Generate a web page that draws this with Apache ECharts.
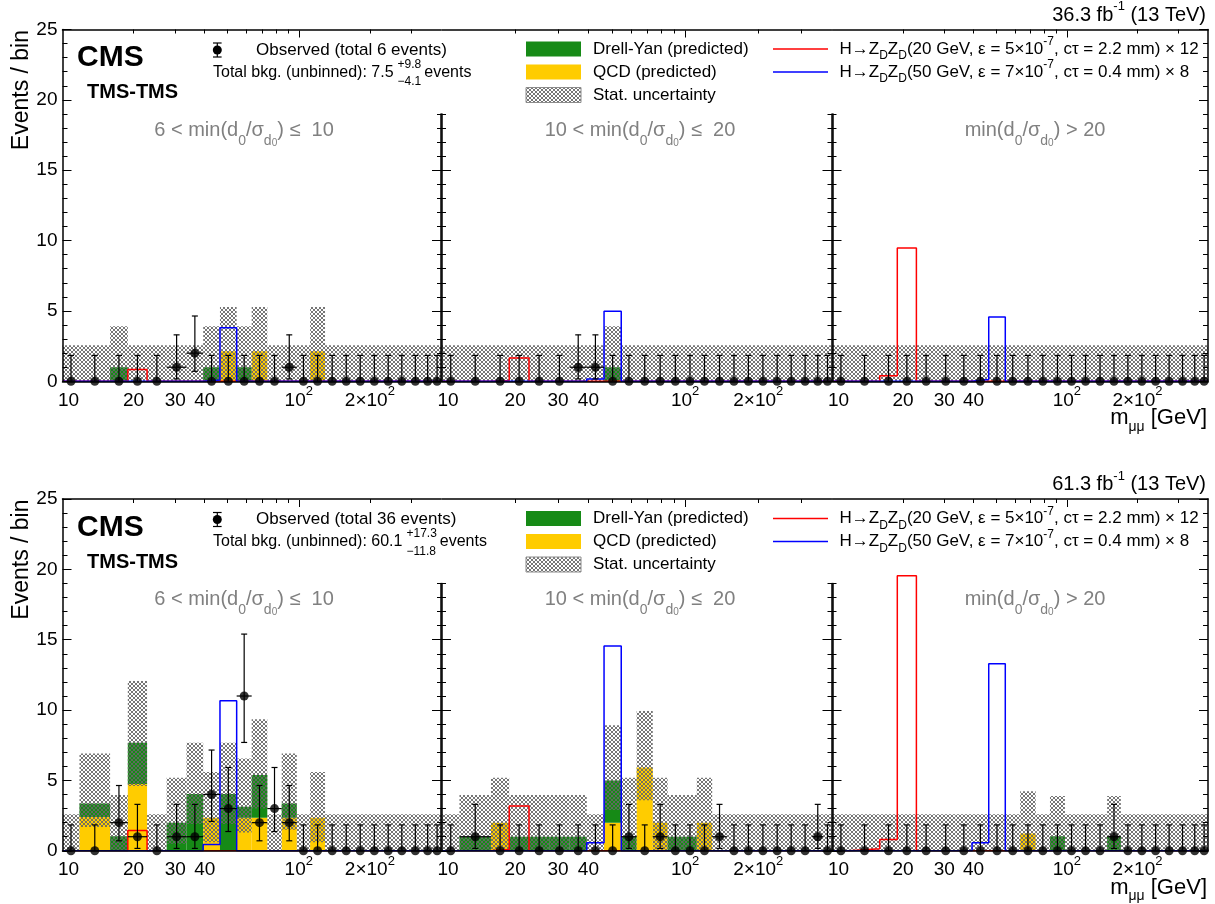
<!DOCTYPE html>
<html><head><meta charset="utf-8">
<script src="https://cdn.jsdelivr.net/npm/echarts@6/dist/echarts.min.js"></script>
<style>html,body{margin:0;padding:0;background:#fff}#c{width:1215px;height:904px}</style>
</head><body><div id="c"></div>
<script>
// ---------------- DATA ----------------
const binEdges = [10, 11.8, 15.9, 18.9, 22.8, 27.6, 33.5, 39.4, 46.4, 54.6, 63.2, 73.6, 84.7, 98.1, 111.7, 129.2, 148.5, 169.9, 195.1, 223.7, 255.6, 291.6, 332.7, 370.7, 400];
const xTickMass = [10, 20, 30, 40, 100, 200];
const xTickLabels = ['10', '20', '30', '40', '10^2', '2×10^2'];
const topMinorMass = [20, 30, 40, 50, 60, 70, 80, 90, 200, 300];
const topMajorMass = [100];
const dividerMajor = [0, 5, 10, 15];
const regionLabels = ['6 < min(d0/σd0) ≤  10', '10 < min(d0/σd0) ≤  20', 'min(d0/σd0) > 20'];
const lumiLabels = ['36.3', '61.3'];
const obsTotals = ['6', '36'];
const bkgTotals = ['7.5', '60.1'];
const bkgUp = ['+9.8', '+17.3'];
const bkgDown = ['−4.1', '−11.8'];
// Garwood 68% intervals for observed counts
const garwood = {0: [0, 1.84], 1: [0.17, 3.30], 2: [0.71, 4.64], 3: [1.37, 5.92], 4: [2.09, 7.16], 11: [7.7, 15.4]};

// 36.3 fb-1, 6 < min(d0/sigma) <= 10
const qcd16A   = [0,0,0,0,0,0,0,0,2.13,0,2.13,0,0,0,2.13,0,0,0,0,0,0,0,0,0];
const dy16A    = [0,0,1.0,0,0,0,0,1.0,0,1.0,0,0,0,0,0,0,0,0,0,0,0,0,0,0];
const statLo16A= [0,0,0,0,0,0,0,0,0,0,0,0,0,0,0,0,0,0,0,0,0,0,0,0];
const statHi16A= [2.56,2.56,3.91,2.56,2.56,2.56,2.56,3.91,5.28,3.91,5.28,2.56,2.56,2.56,5.28,2.56,2.56,2.56,2.56,2.56,2.56,2.56,2.56,2.56];
const sig20_16A= [0,0,0,0.83,0,0,0,0,0,0,0,0,0,0,0,0,0,0,0,0,0,0,0,0];
const sig50_16A= [0,0,0,0,0,0,0,0.1,3.8,0,0,0,0,0,0,0,0,0,0,0,0,0,0,0];
const obs16A   = [0,0,0,0,0,1,2,0,0,0,0,0,1,0,0,0,0,0,0,0,0,0,0,0];
// 36.3 fb-1, 10 < min <= 20
const qcd16B   = [0,0,0,0,0,0,0,0,0,0,0,0,0,0,0,0,0,0,0,0,0,0,0,0];
const dy16B    = [0,0,0,0,0,0,0,0,1.0,0,0,0,0,0,0,0,0,0,0,0,0,0,0,0];
const statLo16B= [0,0,0,0,0,0,0,0,0,0,0,0,0,0,0,0,0,0,0,0,0,0,0,0];
const statHi16B= [2.56,2.56,2.56,2.56,2.56,2.56,2.56,2.56,3.91,2.56,2.56,2.56,2.56,2.56,2.56,2.56,2.56,2.56,2.56,2.56,2.56,2.56,2.56,2.56];
const sig20_16B= [0,0,0.05,1.66,0,0,0,0,0,0,0,0,0,0,0,0,0,0,0,0,0,0,0,0];
const sig50_16B= [0,0,0,0,0,0,0,0.17,4.98,0,0,0,0,0,0,0,0,0,0,0,0,0,0,0];
const obs16B   = [0,0,0,0,0,0,1,1,0,0,0,0,0,0,0,0,0,0,0,0,0,0,0,0];
// 36.3 fb-1, min > 20
const qcd16C   = [0,0,0,0,0,0,0,0,0,0,0,0,0,0,0,0,0,0,0,0,0,0,0,0];
const dy16C    = [0,0,0,0,0,0,0,0,0,0,0,0,0,0,0,0,0,0,0,0,0,0,0,0];
const statLo16C= [0,0,0,0,0,0,0,0,0,0,0,0,0,0,0,0,0,0,0,0,0,0,0,0];
const statHi16C= [2.56,2.56,2.56,2.56,2.56,2.56,2.56,2.56,2.56,2.56,2.56,2.56,2.56,2.56,2.56,2.56,2.56,2.56,2.56,2.56,2.56,2.56,2.56,2.56];
const sig20_16C= [0,0,0.4,9.48,0,0,0,0,0,0,0,0,0,0,0,0,0,0,0,0,0,0,0,0];
const sig50_16C= [0,0,0,0,0,0,0,0.12,4.57,0,0,0,0,0,0,0,0,0,0,0,0,0,0,0];
const obs16C   = [0,0,0,0,0,0,0,0,0,0,0,0,0,0,0,0,0,0,0,0,0,0,0,0];
// 61.3 fb-1, 6 < min <= 10
const qcd18A   = [0,2.4,0,4.75,0,0,0,2.35,0,2.35,2.35,0,2.35,0,2.35,0,0,0,0,0,0,0,0,0];
const dy18A    = [0,0.96,1.04,2.93,0,2.0,4.03,0,4.03,0.78,3.03,0,1.01,0,0,0,0,0,0,0,0,0,0,0];
const statLo18A= [0,1.7,0,4.6,0,0.5,1.9,0.6,1.9,1.3,3.0,0,1.5,0,0.6,0,0,0,0,0,0,0,0,0];
const statHi18A= [2.6,6.92,3.96,12.06,2.6,5.2,7.68,5.6,7.68,6.56,9.34,2.6,6.92,2.6,5.6,2.6,2.6,2.6,2.6,2.6,2.6,2.6,2.6,2.6];
const sig20_18A= [0,0,0,1.45,0,0,0,0,0,0,0,0,0,0,0,0,0,0,0,0,0,0,0,0];
const sig50_18A= [0,0,0,0,0,0,0,0.45,10.66,0,0,0,0,0,0,0,0,0,0,0,0,0,0,0];
const obs18A   = [0,0,2,1,0,1,1,4,3,11,2,3,2,0,0,0,0,0,0,0,0,0,0,0];
// 61.3 fb-1, 10 < min <= 20
const qcd18B   = [0,0,2.0,0,0,0,0,0,2.0,0,5.92,2.0,0,0,2.0,0,0,0,0,0,0,0,0,0];
const dy18B    = [0,1.0,0,1.0,1.0,1.0,1.0,0,3.0,1.0,0,0,1.0,1.0,0,0,0,0,0,0,0,0,0,0];
const statLo18B= [0,0,0,0,0,0,0,0,2.9,0,3.6,0,0,0,0,0,0,0,0,0,0,0,0,0];
const statHi18B= [2.6,3.96,5.19,3.96,3.96,3.96,3.96,2.6,8.93,5.2,9.93,5.19,3.96,3.96,5.19,2.6,2.6,2.6,2.6,2.6,2.6,2.6,2.6,2.6];
const sig20_18B= [0,0,0.1,3.18,0,0,0,0,0,0,0,0,0,0,0,0,0,0,0,0,0,0,0,0];
const sig50_18B= [0,0,0,0,0,0,0,0.57,14.55,0,0,0,0,0,0,0,0,0,0,0,0,0,0,0];
const obs18B   = [0,1,0,0,0,0,0,0,0,1,0,1,0,0,0,1,0,0,0,0,0,0,1,0];
// 61.3 fb-1, min > 20
const qcd18C   = [0,0,0,0,0,0,0,0,0,0,1.23,0,0,0,0,0,0,0,0,0,0,0,0,0];
const dy18C    = [0,0,0,0,0,0,0,0,0,0,0,0,1.04,0,0,0,1.04,0,0,0,0,0,0,0];
const statLo18C= [0,0,0,0,0,0,0,0,0,0,0,0,0,0,0,0,0,0,0,0,0,0,0,0];
const statHi18C= [2.6,2.6,2.6,2.6,2.6,2.6,2.6,2.6,2.6,2.6,4.24,2.6,3.9,2.6,2.6,2.6,3.9,2.6,2.6,2.6,2.6,2.6,2.6,2.6];
const sig20_18C= [0,0.14,0.8,19.55,0,0,0,0,0,0,0,0,0,0,0,0,0,0,0,0,0,0,0,0];
const sig50_18C= [0,0,0,0,0,0,0,0.57,13.3,0,0,0,0,0,0,0,0,0,0,0,0,0,0,0];
const obs18C   = [0,0,0,0,0,0,0,0,0,0,0,0,0,0,0,0,1,0,0,0,0,0,0,0];

const panels = [
  [
    {qcd: qcd16A, dy: dy16A, lo: statLo16A, hi: statHi16A, s20: sig20_16A, s50: sig50_16A, obs: obs16A},
    {qcd: qcd16B, dy: dy16B, lo: statLo16B, hi: statHi16B, s20: sig20_16B, s50: sig50_16B, obs: obs16B},
    {qcd: qcd16C, dy: dy16C, lo: statLo16C, hi: statHi16C, s20: sig20_16C, s50: sig50_16C, obs: obs16C}
  ],
  [
    {qcd: qcd18A, dy: dy18A, lo: statLo18A, hi: statHi18A, s20: sig20_18A, s50: sig50_18A, obs: obs18A},
    {qcd: qcd18B, dy: dy18B, lo: statLo18B, hi: statHi18B, s20: sig20_18B, s50: sig50_18B, obs: obs18B},
    {qcd: qcd18C, dy: dy18C, lo: statLo18C, hi: statHi18C, s20: sig20_18C, s50: sig50_18C, obs: obs18C}
  ]
];

// ---------------- STYLE / LAYOUT ----------------
const FF = '"Liberation Sans", Arial, Helvetica, sans-serif';
const DY_COLOR = '#168a16';
const QCD_COLOR = '#ffcc00';
const GRAY_TXT = '#808080';
const subX = [[62.5, 441], [442, 831.5], [832.5, 1208]];
const panelY = [[29.5, 381.3], [499, 850.8]];
const yMax = 25, divMax = 19;
const LOG = Math.log10;
const E = binEdges.map(LOG);
const xMin = E[0], xMax = E[E.length - 1];

function makeHatch() {
  const c = document.createElement('canvas');
  c.width = 4; c.height = 4;
  const ctx = c.getContext('2d');
  ctx.strokeStyle = '#666666'; ctx.lineWidth = 0.9;
  ctx.beginPath(); ctx.moveTo(0, 0); ctx.lineTo(4, 4); ctx.moveTo(4, 0); ctx.lineTo(0, 4); ctx.stroke();
  return c;
}
const HATCH = {image: makeHatch(), repeat: 'repeat'};

const mctx = document.createElement('canvas').getContext('2d');
function tw(str, font) { mctx.font = font; return mctx.measureText(str).width; }

const richX = {
  b: {fontSize: 19, fontFamily: FF, color: '#000', lineHeight: 30, verticalAlign: 'middle'},
  f: {fontSize: 19, fontFamily: FF, color: '#000', lineHeight: 30, verticalAlign: 'middle', padding: [0, 0, 0, 12]},
  sup: {fontSize: 13, fontFamily: FF, color: '#000', lineHeight: 14, verticalAlign: 'top'}
};
function fmtX(v) {
  const m = Math.round(Math.pow(10, v));
  const i = xTickMass.indexOf(m);
  if (i < 0) return '';
  const lab = xTickLabels[i];
  if (lab.indexOf('^') >= 0) {
    const parts = lab.split('^');
    return '{b|' + parts[0] + '}{sup|' + parts[1] + '}';
  }
  return i === 0 ? '{f|' + lab + '}' : '{b|' + lab + '}';
}

const grid = [], xAxis = [], yAxis = [], series = [];
const addGrid = g => { grid.push(g); return grid.length - 1; };
const addX = a => { xAxis.push(a); return xAxis.length - 1; };
const addY = a => { yAxis.push(a); return yAxis.length - 1; };
const axLine = {show: true, onZero: false, lineStyle: {color: '#000', width: 1.5}};
const tickLine = {color: '#000', width: 1};

function renderBkg(params, api) {
  const a = api.coord([api.value(0), api.value(3)]);
  const b = api.coord([api.value(1), api.value(2)]);
  return {type: 'rect', shape: {x: a[0], y: a[1], width: b[0] - a[0], height: b[1] - a[1]},
          style: {fill: api.value(4) === 1 ? DY_COLOR : QCD_COLOR}};
}
function renderStat(params, api) {
  const a = api.coord([api.value(0), api.value(3)]);
  const b = api.coord([api.value(1), api.value(2)]);
  return {type: 'rect', shape: {x: a[0], y: a[1], width: b[0] - a[0], height: b[1] - a[1]},
          style: {fill: HATCH}};
}
function renderErr(params, api) {
  const xc = api.value(0), xl = api.value(1), xh = api.value(2), n = api.value(3), lo = api.value(4), hi = api.value(5);
  const pc = api.coord([xc, n]), pl = api.coord([xc, lo]), ph = api.coord([xc, hi]);
  const st = {stroke: '#000', lineWidth: 1.2};
  const ch = [
    {type: 'line', shape: {x1: pc[0], y1: pl[1], x2: pc[0], y2: ph[1]}, style: st},
    {type: 'line', shape: {x1: pc[0] - 3, y1: ph[1], x2: pc[0] + 3, y2: ph[1]}, style: st}
  ];
  if (n > 0) {
    const a = api.coord([xl, n]), b = api.coord([xh, n]);
    ch.push({type: 'line', shape: {x1: pc[0] - 3, y1: pl[1], x2: pc[0] + 3, y2: pl[1]}, style: st});
    ch.push({type: 'line', shape: {x1: a[0], y1: pc[1], x2: b[0], y2: pc[1]}, style: st});
  }
  return {type: 'group', children: ch};
}
function stepData(arr) {
  const pts = arr.map((v, i) => [E[i], v]);
  pts.push([E[E.length - 1], arr[arr.length - 1]]);
  return pts;
}

for (let p = 0; p < 2; p++) {
  const yTop = panelY[p][0], y0 = panelY[p][1];
  const pxPerUnit = (y0 - yTop) / yMax;
  for (let s = 0; s < 3; s++) {
    const xl = subX[s][0], xr = subX[s][1];
    const gi = addGrid({left: xl, top: yTop, width: xr - xl, height: y0 - yTop});
    const xb = addX({gridIndex: gi, type: 'value', position: 'bottom', min: xMin, max: xMax, z: 10,
      axisLine: axLine, axisTick: {show: false}, splitLine: {show: false},
      axisLabel: {show: true, customValues: xTickMass.map(LOG), margin: 4, formatter: fmtX, rich: richX}});
    addX({gridIndex: gi, type: 'value', position: 'top', min: xMin, max: xMax, z: 10,
      axisLine: axLine, axisTick: {show: true, inside: true, length: 4, customValues: topMinorMass.map(LOG), lineStyle: tickLine},
      axisLabel: {show: false}, splitLine: {show: false}});
    let yi;
    if (s === 1) {
      yi = addY({gridIndex: gi, type: 'value', min: 0, max: yMax, show: false});
    } else {
      yi = addY({gridIndex: gi, type: 'value', min: 0, max: yMax, interval: 5, position: s === 0 ? 'left' : 'right', z: 10,
        axisLine: axLine,
        axisTick: {show: true, inside: true, length: 9, lineStyle: tickLine},
        minorTick: {show: true, splitNumber: 5, length: 5, lineStyle: tickLine},
        axisLabel: {show: s === 0, margin: 5, fontSize: 19, fontFamily: FF, color: '#000'},
        splitLine: {show: false}, minorSplitLine: {show: false}});
    }
    // overlay grid for longer major ticks on top axis
    const go = addGrid({left: xl, top: yTop, width: xr - xl, height: 1});
    addX({gridIndex: go, type: 'value', position: 'top', min: xMin, max: xMax, z: 10,
      axisLine: {show: false}, axisTick: {show: true, inside: true, length: 7, customValues: topMajorMass.map(LOG), lineStyle: tickLine},
      axisLabel: {show: false}, splitLine: {show: false}});
    addY({gridIndex: go, type: 'value', min: 0, max: 1, show: false});

    // series
    const d = panels[p][s];
    const bkg = [], stat = [], err = [], dots = [];
    for (let i = 0; i < d.obs.length; i++) {
      const x0 = E[i], x1 = E[i + 1], xc = (x0 + x1) / 2;
      if (d.qcd[i] > 0) bkg.push([x0, x1, 0, d.qcd[i], 0]);
      if (d.dy[i] > 0) bkg.push([x0, x1, d.qcd[i], d.qcd[i] + d.dy[i], 1]);
      stat.push([x0, x1, d.lo[i], d.hi[i]]);
      const n = d.obs[i], g = garwood[n];
      err.push([xc, x0, x1, n, g[0], g[1]]);
      dots.push([xc, n]);
    }
    const common = {xAxisIndex: xb, yAxisIndex: yi};
    series.push(Object.assign({type: 'custom', renderItem: renderBkg, data: bkg, encode: {x: [0, 1], y: [2, 3]}, z: 2, clip: true}, common));
    series.push(Object.assign({type: 'custom', renderItem: renderStat, data: stat, encode: {x: [0, 1], y: [2, 3]}, z: 3, clip: true}, common));
    series.push(Object.assign({type: 'line', step: 'end', symbol: 'none', data: stepData(d.s20), lineStyle: {color: '#ff0000', width: 1.5}, z: 4, clip: true}, common));
    series.push(Object.assign({type: 'line', step: 'end', symbol: 'none', data: stepData(d.s50), lineStyle: {color: '#0000ff', width: 1.5}, z: 4, clip: true}, common));
    series.push(Object.assign({type: 'custom', renderItem: renderErr, data: err, encode: {x: 0, y: 3}, z: 19, clip: false}, common));
    series.push(Object.assign({type: 'scatter', data: dots, symbol: 'circle', symbolSize: 9, itemStyle: {color: '#000'}, z: 20, clip: false}, common));
  }
  // dividers
  for (let dv = 0; dv < 2; dv++) {
    const xd = (subX[dv][1] + subX[dv + 1][0]) / 2;
    const dTop = y0 - divMax * pxPerUnit;
    for (let k = 0; k < 2; k++) {
      const gd = addGrid({left: xd - 0.5, top: dTop, width: 1, height: y0 - dTop});
      addX({gridIndex: gd, type: 'value', min: 0, max: 1, show: false});
      ['left', 'right'].forEach(pos => {
        if (k === 0) {
          addY({gridIndex: gd, type: 'value', min: 0, max: divMax, position: pos, z: 10,
            axisLine: axLine, axisTick: {show: true, inside: true, length: 10, customValues: dividerMajor, lineStyle: tickLine},
            axisLabel: {show: false}, splitLine: {show: false}});
        } else {
          addY({gridIndex: gd, type: 'value', min: 0, max: divMax, interval: 1, position: pos, z: 10,
            axisLine: {show: false}, axisTick: {show: true, inside: true, length: 5, lineStyle: tickLine},
            axisLabel: {show: false}, splitLine: {show: false}});
        }
      });
    }
  }
}

// ---------------- TEXT / LEGEND (graphic) ----------------
const rich17 = {
  t: {fontSize: 17, fontFamily: FF, lineHeight: 26, verticalAlign: 'middle', fill: '#000'},
  sub: {fontSize: 12, fontFamily: FF, lineHeight: 12, verticalAlign: 'bottom', fill: '#000'},
  sup: {fontSize: 12, fontFamily: FF, lineHeight: 12, verticalAlign: 'top', fill: '#000'}
};
const richReg = {
  t: {fontSize: 20, fontFamily: FF, lineHeight: 36, verticalAlign: 'middle', fill: GRAY_TXT},
  s0: {fontSize: 14, fontFamily: FF, lineHeight: 16, verticalAlign: 'bottom', fill: GRAY_TXT},
  sd: {fontSize: 14, fontFamily: FF, lineHeight: 26, verticalAlign: 'bottom', fill: GRAY_TXT},
  ss: {fontSize: 10, fontFamily: FF, lineHeight: 6, verticalAlign: 'bottom', fill: GRAY_TXT}
};
function regRich(label) {
  const key = 'min(d0/σd0)';
  const i = label.indexOf(key);
  const pre = label.slice(0, i), post = label.slice(i + key.length);
  return (pre ? '{t|' + pre + '}' : '') + '{t|min(d}{s0|0}{t|/σ}{sd|d}{ss|0}{t|)' + post + '}';
}
const richLumi = {
  t: {fontSize: 20, fontFamily: FF, lineHeight: 30, verticalAlign: 'middle', fill: '#000'},
  sup: {fontSize: 13, fontFamily: FF, lineHeight: 14, verticalAlign: 'top', fill: '#000'}
};
const richM = {
  t: {fontSize: 22, fontFamily: FF, lineHeight: 32, verticalAlign: 'middle', fill: '#000'},
  sub: {fontSize: 14, fontFamily: FF, lineHeight: 16, verticalAlign: 'bottom', fill: '#000'}
};
const regionCx = [244, 640, 1035];
const sigLegend = [
  {color: '#ff0000', text: '{t|H→Z}{sub|D}{t|Z}{sub|D}{t|(20 GeV, ε = 5×10}{sup|-7}{t|, cτ = 2.2 mm) × 12}'},
  {color: '#0000ff', text: '{t|H→Z}{sub|D}{t|Z}{sub|D}{t|(50 GeV, ε = 7×10}{sup|-7}{t|, cτ = 0.4 mm) × 8}'}
];

const gfx = [];
for (let p = 0; p < 2; p++) {
  const dy = panelY[p][0] - panelY[0][0];
  gfx.push({type: 'text', x: 22, y: 30 + dy, rotation: Math.PI / 2,
    style: {text: 'Events / bin', font: '23px ' + FF, fill: '#000', align: 'right', verticalAlign: 'middle'}});
  gfx.push({type: 'text', style: {x: 1207, y: 418 + dy, text: '{t|m}{sub|μμ}{t| [GeV]}', rich: richM, align: 'right', verticalAlign: 'middle'}});
  gfx.push({type: 'text', style: {x: 1206, y: 15 + dy, text: '{t|' + lumiLabels[p] + ' fb}{sup|-1}{t| (13 TeV)}', rich: richLumi, align: 'right', verticalAlign: 'middle'}});
  gfx.push({type: 'text', style: {x: 77, y: 58 + dy, text: 'CMS', font: 'bold 30px ' + FF, fill: '#000', align: 'left', verticalAlign: 'middle'}});
  gfx.push({type: 'text', style: {x: 87, y: 92.5 + dy, text: 'TMS-TMS', font: 'bold 20px ' + FF, fill: '#000', align: 'left', verticalAlign: 'middle'}});
  for (let s = 0; s < 3; s++) {
    gfx.push({type: 'text', style: {x: regionCx[s], y: 130 + dy, text: regRich(regionLabels[s]), rich: richReg, align: 'center', verticalAlign: 'middle'}});
  }
  const oy = 50 + dy;
  gfx.push({type: 'line', shape: {x1: 217.3, y1: oy - 7, x2: 217.3, y2: oy + 7}, style: {stroke: '#000', lineWidth: 1.2}});
  gfx.push({type: 'line', shape: {x1: 213, y1: oy - 7, x2: 221.6, y2: oy - 7}, style: {stroke: '#000', lineWidth: 1.2}});
  gfx.push({type: 'line', shape: {x1: 213, y1: oy + 7, x2: 221.6, y2: oy + 7}, style: {stroke: '#000', lineWidth: 1.2}});
  gfx.push({type: 'circle', shape: {cx: 217.3, cy: oy, r: 4.5}, style: {fill: '#000'}});
  gfx.push({type: 'text', style: {x: 256, y: oy, text: 'Observed (total ' + obsTotals[p] + ' events)', font: '17px ' + FF, fill: '#000', align: 'left', verticalAlign: 'middle'}});
  const by = 72.5 + dy;
  const mainT = 'Total bkg. (unbinned): ' + bkgTotals[p];
  const f16 = '16px ' + FF, f12 = '12px ' + FF;
  const xs = 213 + tw(mainT, f16) + 4;
  gfx.push({type: 'text', style: {x: 213, y: by, text: mainT, font: f16, fill: '#000', align: 'left', verticalAlign: 'middle'}});
  gfx.push({type: 'text', style: {x: xs, y: by - 8, text: bkgUp[p], font: f12, fill: '#000', align: 'left', verticalAlign: 'middle'}});
  gfx.push({type: 'text', style: {x: xs, y: by + 9.5, text: bkgDown[p], font: f12, fill: '#000', align: 'left', verticalAlign: 'middle'}});
  const xe = xs + Math.max(tw(bkgUp[p], f12), tw(bkgDown[p], f12)) + 3;
  gfx.push({type: 'text', style: {x: xe, y: by, text: 'events', font: f16, fill: '#000', align: 'left', verticalAlign: 'middle'}});
  const rows = [49 + dy, 72 + dy, 95 + dy];
  gfx.push({type: 'rect', shape: {x: 526, y: rows[0] - 7.5, width: 55, height: 15}, style: {fill: DY_COLOR}});
  gfx.push({type: 'rect', shape: {x: 526, y: rows[1] - 7.5, width: 55, height: 15}, style: {fill: QCD_COLOR}});
  gfx.push({type: 'rect', shape: {x: 526, y: rows[2] - 7.5, width: 55, height: 15}, style: {fill: HATCH, stroke: '#8c8c8c', lineWidth: 1}});
  const col2 = ['Drell-Yan (predicted)', 'QCD (predicted)', 'Stat. uncertainty'];
  col2.forEach((t, k) => gfx.push({type: 'text', style: {x: 593, y: rows[k], text: t, font: '17px ' + FF, fill: '#000', align: 'left', verticalAlign: 'middle'}}));
  sigLegend.forEach((sg, k) => {
    gfx.push({type: 'line', shape: {x1: 773, y1: rows[k], x2: 828, y2: rows[k]}, style: {stroke: sg.color, lineWidth: 1.5}});
    gfx.push({type: 'text', style: {x: 839.5, y: rows[k], text: sg.text, rich: rich17, align: 'left', verticalAlign: 'middle'}});
  });
}

const option = {
  animation: false,
  backgroundColor: '#fff',
  grid: grid,
  xAxis: xAxis,
  yAxis: yAxis,
  series: series,
  graphic: {elements: gfx}
};
const chart = echarts.init(document.getElementById('c'), null, {renderer: 'canvas', width: 1215, height: 904});
chart.setOption(option);
</script>
</body></html>
